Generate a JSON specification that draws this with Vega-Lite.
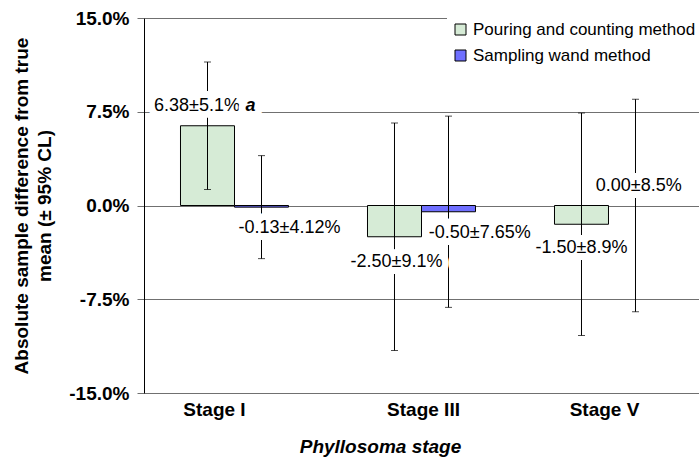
{
  "$schema": "https://vega.github.io/schema/vega-lite/v6.json",
  "width": 555,
  "height": 375,
  "autosize": {"type": "none"},
  "padding": {"left": 144, "top": 18, "right": 0, "bottom": 70},
  "background": "white",
  "config": {"font": "Liberation Sans", "view": {"stroke": null}},
  "data": {
    "values": [
      {"stage": "Stage I", "method": "Pouring and counting method", "mean": 6.38, "lo": 1.28, "hi": 11.48, "label": "6.38±5.1%", "note": "a"},
      {"stage": "Stage I", "method": "Sampling wand method", "mean": -0.13, "lo": -4.25, "hi": 3.99, "label": "-0.13±4.12%", "note": ""},
      {"stage": "Stage III", "method": "Pouring and counting method", "mean": -2.5, "lo": -11.6, "hi": 6.6, "label": "-2.50±9.1%", "note": ""},
      {"stage": "Stage III", "method": "Sampling wand method", "mean": -0.5, "lo": -8.15, "hi": 7.15, "label": "-0.50±7.65%", "note": ""},
      {"stage": "Stage V", "method": "Pouring and counting method", "mean": -1.5, "lo": -10.4, "hi": 7.4, "label": "-1.50±8.9%", "note": ""},
      {"stage": "Stage V", "method": "Sampling wand method", "mean": 0.0, "lo": -8.5, "hi": 8.5, "label": "0.00±8.5%", "note": ""}
    ]
  },
  "encoding": {
    "x": {
      "field": "stage", "type": "nominal", "sort": ["Stage I", "Stage III", "Stage V"],
      "scale": {"paddingInner": 0.04, "paddingOuter": 0.004},
      "axis": {
        "title": "Phyllosoma stage", "labelAngle": 0, "labelFontSize": 19, "labelFontWeight": "bold",
        "labelColor": "black", "labelPadding": 7, "ticks": false, "tickSize": 0, "domainColor": "#707070",
        "titleFontSize": 19, "titleFontWeight": "bold", "titleFontStyle": "italic", "titleColor": "black",
        "titleX": 236, "titleY": 44, "titleBaseline": "top",
        "labelOffset": {"condition": [{"test": "datum.value === 'Stage I'", "value": -20}, {"test": "datum.value === 'Stage V'", "value": -4}], "value": 2}
      }
    },
    "xOffset": {"field": "method", "type": "nominal", "scale": {"paddingInner": 0, "paddingOuter": 0.662}}
  },
  "layer": [
    {
      "mark": {"type": "bar", "stroke": "black", "strokeWidth": 1},
      "encoding": {
        "y": {
          "field": "mean", "type": "quantitative",
          "scale": {"domain": [-15, 15], "nice": false},
          "axis": {
            "title": ["Absolute sample difference from true", "mean (± 95% CL)"],
            "values": [-15, -7.5, 0, 7.5, 15],
            "labelExpr": "(datum.value < 0 ? '-' : '') + format(abs(datum.value), '.1f') + '%'",
            "grid": true, "gridColor": "#707070", "gridWidth": 1,
            "domainColor": "black", "tickColor": "#707070", "tickSize": 7,
            "labelFontSize": 19, "labelFontWeight": "bold", "labelColor": "black", "labelPadding": 8,
            "titleFontSize": 19, "titleFontWeight": "bold", "titleColor": "black", "titlePadding": 14, "titleLineHeight": 23
          }
        },
        "strokeOpacity": {"condition": {"test": "datum.mean === 0", "value": 0}, "value": 1},
        "color": {
          "field": "method", "type": "nominal",
          "scale": {"domain": ["Pouring and counting method", "Sampling wand method"], "range": ["#d6ebd6", "#6f6fff"]},
          "legend": {
            "title": null, "orient": "top-right", "offset": -2, "padding": 5, "fillColor": "white",
            "labelFontSize": 17, "labelColor": "black", "labelLimit": 400, "symbolType": "square",
            "symbolSize": 121, "symbolStrokeColor": "black", "symbolStrokeWidth": 1, "rowPadding": 8,
            "labelOffset": 4
          }
        }
      }
    },
    {
      "mark": {"type": "rule", "color": "black", "strokeWidth": 1},
      "encoding": {"y": {"field": "lo", "type": "quantitative"}, "y2": {"field": "hi"}}
    },
    {
      "mark": {"type": "tick", "color": "black", "size": 7, "thickness": 1},
      "encoding": {"y": {"field": "lo", "type": "quantitative"}}
    },
    {
      "mark": {"type": "tick", "color": "black", "size": 7, "thickness": 1},
      "encoding": {"y": {"field": "hi", "type": "quantitative"}}
    },
    {
      "transform": [{"filter": "datum.label === '6.38±5.1%'"}],
      "encoding": {"y": {"field": "mean", "type": "quantitative"}, "text": {"field": "label"}},
      "layer": [
        {"mark": {"type": "text", "fontSize": 18, "color": "white", "stroke": "white", "strokeWidth": 14, "strokeJoin": "round", "dx": -10.5, "dy": -19.3}},
        {"mark": {"type": "text", "fontSize": 18, "color": "black", "dx": -10.5, "dy": -19.3}}
      ]
    },
    {
      "transform": [{"filter": "datum.note !== ''"}],
      "encoding": {"y": {"field": "mean", "type": "quantitative"}, "text": {"field": "note"}},
      "layer": [
        {"mark": {"type": "text", "fontSize": 18, "fontWeight": "bold", "fontStyle": "italic", "align": "left", "color": "white", "stroke": "white", "strokeWidth": 14, "strokeJoin": "round", "dx": 38, "dy": -19.3}},
        {"mark": {"type": "text", "fontSize": 18, "fontWeight": "bold", "fontStyle": "italic", "align": "left", "color": "black", "dx": 38, "dy": -19.3}}
      ]
    },
    {
      "transform": [{"filter": "datum.label === '-0.13±4.12%'"}],
      "encoding": {"y": {"field": "mean", "type": "quantitative"}, "text": {"field": "label"}},
      "layer": [
        {"mark": {"type": "text", "fontSize": 18, "color": "white", "stroke": "white", "strokeWidth": 14, "strokeJoin": "round", "dx": 28, "dy": 20.4}},
        {"mark": {"type": "text", "fontSize": 18, "color": "black", "dx": 28, "dy": 20.4}}
      ]
    },
    {
      "transform": [{"filter": "datum.label === '-2.50±9.1%'"}],
      "encoding": {"y": {"field": "mean", "type": "quantitative"}, "text": {"field": "label"}},
      "layer": [
        {"mark": {"type": "text", "fontSize": 18, "color": "white", "stroke": "white", "strokeWidth": 14, "strokeJoin": "round", "dx": 2, "dy": 24.75}},
        {"mark": {"type": "text", "fontSize": 18, "color": "black", "dx": 2, "dy": 24.75}}
      ]
    },
    {
      "transform": [{"filter": "datum.label === '-0.50±7.65%'"}],
      "encoding": {"y": {"field": "mean", "type": "quantitative"}, "text": {"field": "label"}},
      "layer": [
        {"mark": {"type": "text", "fontSize": 18, "color": "white", "stroke": "white", "strokeWidth": 14, "strokeJoin": "round", "dx": 31.3, "dy": 21.25}},
        {"mark": {"type": "text", "fontSize": 18, "color": "black", "dx": 31.3, "dy": 21.25}}
      ]
    },
    {
      "transform": [{"filter": "datum.label === '-1.50±8.9%'"}],
      "encoding": {"y": {"field": "mean", "type": "quantitative"}, "text": {"field": "label"}},
      "layer": [
        {"mark": {"type": "text", "fontSize": 18, "color": "white", "stroke": "white", "strokeWidth": 14, "strokeJoin": "round", "dx": 0, "dy": 23.75}},
        {"mark": {"type": "text", "fontSize": 18, "color": "black", "dx": 0, "dy": 23.75}}
      ]
    },
    {
      "transform": [{"filter": "datum.label === '0.00±8.5%'"}],
      "encoding": {"y": {"field": "mean", "type": "quantitative"}, "text": {"field": "label"}},
      "layer": [
        {"mark": {"type": "text", "fontSize": 18, "color": "white", "stroke": "white", "strokeWidth": 14, "strokeJoin": "round", "dx": 3.3, "dy": -19.5}},
        {"mark": {"type": "text", "fontSize": 18, "color": "black", "dx": 3.3, "dy": -19.5}}
      ]
    }
  ]
}
